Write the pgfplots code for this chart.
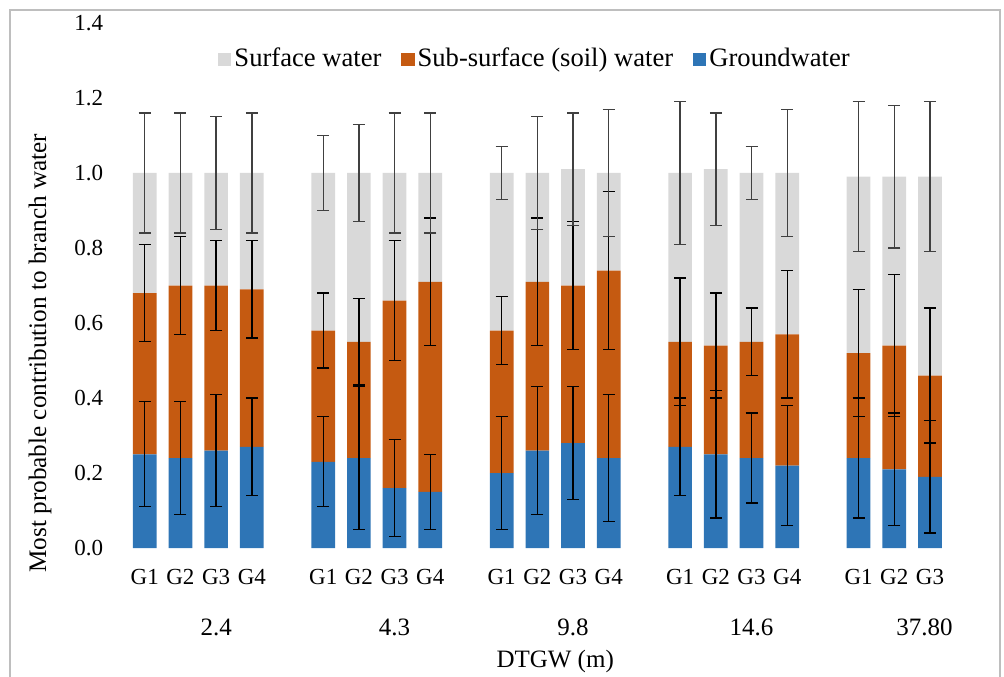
\documentclass[border=0pt]{standalone}
\usepackage{fontspec}
\setmainfont{Liberation Serif}
\usepackage{pgfplots}
\usepackage{pgfplotstable}
\pgfplotsset{compat=1.18}
\definecolor{gw}{RGB}{46,117,182}
\definecolor{soil}{RGB}{197,90,17}
\definecolor{surf}{RGB}{217,217,217}
\definecolor{frame}{RGB}{190,190,190}

% segments (stacked) and cumulative tops with error half-widths
\pgfplotstableread{
pos gw   soil surf gwtop gwerr soiltop soilerr surftop surferr
0   0.25 0.43 0.32 0.25  0.14  0.68    0.13    1.00    0.16
1   0.24 0.46 0.30 0.24  0.15  0.70    0.13    1.00    0.16
2   0.26 0.44 0.30 0.26  0.15  0.70    0.12    1.00    0.15
3   0.27 0.42 0.31 0.27  0.13  0.69    0.13    1.00    0.16
5   0.23 0.35 0.42 0.23  0.12  0.58    0.10    1.00    0.10
6   0.24 0.31 0.45 0.24  0.19  0.55    0.115   1.00    0.13
7   0.16 0.50 0.34 0.16  0.13  0.66    0.16    1.00    0.16
8   0.15 0.56 0.29 0.15  0.10  0.71    0.17    1.00    0.16
10  0.20 0.38 0.42 0.20  0.15  0.58    0.09    1.00    0.07
11  0.26 0.45 0.29 0.26  0.17  0.71    0.17    1.00    0.15
12  0.28 0.42 0.31 0.28  0.15  0.70    0.17    1.01    0.15
13  0.24 0.50 0.26 0.24  0.17  0.74    0.21    1.00    0.17
15  0.27 0.28 0.45 0.27  0.13  0.55    0.17    1.00    0.19
16  0.25 0.29 0.47 0.25  0.17  0.54    0.14    1.01    0.15
17  0.24 0.31 0.45 0.24  0.12  0.55    0.09    1.00    0.07
18  0.22 0.35 0.43 0.22  0.16  0.57    0.17    1.00    0.17
20  0.24 0.28 0.47 0.24  0.16  0.52    0.17    0.99    0.20
21  0.21 0.33 0.45 0.21  0.15  0.54    0.19    0.99    0.19
22  0.19 0.27 0.53 0.19  0.15  0.46    0.18    0.99    0.20
}\data

\begin{document}
\fontsize{12.5bp}{15bp}\selectfont
\begin{tikzpicture}
\useasboundingbox (-63.45bp,-64.5bp) rectangle (438.55bp,274bp);
\draw[frame, line width=0.7bp] (-58.45bp,-70bp) -- (-58.45bp,269bp) -- (436.55bp,269bp) -- (436.55bp,-70bp);
\pgfplotsset{
  common/.style={
    at={(0,0)}, anchor=south west,
    scale only axis, width=428.3bp, height=262.5bp,
    xmin=-0.5, xmax=23.5, ymin=0, ymax=1.4,
    clip=false,
  }
}
\begin{axis}[common,
  ybar stacked, bar width=11.85bp,
  axis line style={draw=none}, tick style={draw=none}, major tick length=0pt,
  xtick={0,1,2,3,5,6,7,8,10,11,12,13,15,16,17,18,20,21,22},
  xticklabels={G1,G2,G3,G4,G1,G2,G3,G4,G1,G2,G3,G4,G1,G2,G3,G4,G1,G2,G3},
  ytick={0,0.2,0.4,0.6,0.8,1.0,1.2,1.4},
  /pgf/number format/fixed, /pgf/number format/fixed zerofill,
  /pgf/number format/precision=1, /pgf/number format/assume math mode=true,
  ticklabel style={font=\fontsize{11.5bp}{13bp}\selectfont},
  yticklabel style={anchor=east, xshift=-7.5bp},
  xticklabel style={anchor=center, yshift=-14.5bp},
  ylabel={Most probable contribution to branch water},
  ylabel style={at={(axis description cs:-0.1015,0.371)}, anchor=center, rotate=0,
    font=\fontsize{12.6bp}{15bp}\selectfont},
  xlabel={DTGW (m)},
  xlabel style={at={(axis description cs:0.5,-0.217)}, anchor=center},
  reverse legend,
  legend columns=3,
  legend style={at={(0.477,0.931)}, anchor=center, draw=none, fill=none,
    font=\fontsize{13.3bp}{15bp}\selectfont,
    nodes={inner sep=1.5bp},
    /tikz/every even column/.append style={column sep=8.5bp}},
  legend image code/.code={\fill[#1] (0bp,-3.3bp) rectangle (6.6bp,3.3bp);},
]
\addplot[fill=gw, draw=none] table[x=pos, y=gw] {\data};
\addplot[fill=soil, draw=none] table[x=pos, y=soil] {\data};
\addplot[fill=surf, draw=none] table[x=pos, y=surf] {\data};
\legend{Groundwater, Sub-surface (soil) water, Surface water}
\node[anchor=center] at (axis cs:2,0)  [yshift=-39.5bp] {2.4};
\node[anchor=center] at (axis cs:7,0)  [yshift=-39.5bp] {4.3};
\node[anchor=center] at (axis cs:12,0) [yshift=-39.5bp] {9.8};
\node[anchor=center] at (axis cs:17,0) [yshift=-39.5bp] {14.6};
\node[anchor=center] at (axis cs:21.85,0) [yshift=-39.5bp] {37.80};
\end{axis}
\begin{axis}[common, hide axis]
\pgfplotsset{eb/.style={draw=none, mark=none, error bars/.cd, y dir=both, y explicit,
  error bar style={draw=#1, line width=0.7bp},
  error mark options={rotate=90, mark size=3bp, line width=0.7bp, draw=#1}}}
\addplot[eb=black] table[x=pos, y=gwtop, y error=gwerr] {\data};
\addplot[eb=black] table[x=pos, y=soiltop, y error=soilerr] {\data};
\addplot[eb={black!75}] table[x=pos, y=surftop, y error=surferr] {\data};
\end{axis}
\end{tikzpicture}
\end{document}
